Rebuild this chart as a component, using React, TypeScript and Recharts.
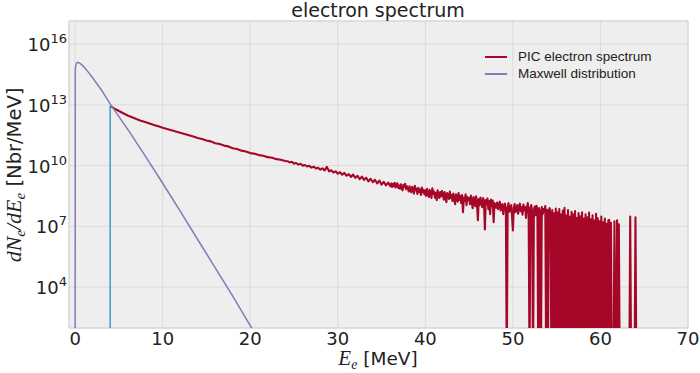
import React from 'react';
import {
    LineChart,
    Line,
    XAxis,
    YAxis,
    CartesianGrid,
    Legend,
    ReferenceArea,
} from 'recharts';

// x axis (MeV) and y axis (log10 of dN/dE) ticks
const energyTicks = [0, 10, 20, 30, 40, 50, 60, 70];
const decadeTicks = [4, 7, 10, 13, 16];
const legendOrder = ['PIC electron spectrum', 'Maxwell distribution'];

// Maxwell fit: [E (MeV), log10 dN/dE]; null = zero (off the log axis)
const maxwellCurve: [number, number | null][] = [
    [0, null], [0.02, 14.71], [0.05, 14.89], [0.1, 15.0], [0.2, 15.08], [0.3, 15.1],
    [0.5, 15.07], [0.8, 14.97], [1, 14.88], [1.5, 14.62], [2, 14.34], [3, 13.74],
    [4, 13.05], [5, 12.42], [6, 11.8], [8, 10.48], [10, 9.13], [12, 7.75],
    [14, 6.35], [16, 4.95], [18, 3.55], [20, 2.1], [21, 1.4],
];

// cut-off marker at 4 MeV
const cutoffMarker: [number, number | null][] = [[4, 12.95], [4, null]];

// PIC histogram, log10 values per bin (null = empty bin)
const picLowStart = 4;
const picLowStep = 0.5;
const picLowLog = [
    12.95, 12.82, 12.7, 12.59, 12.48, 12.39, 12.3, 12.22, 12.15, 12.08,
    12.01, 11.94, 11.87, 11.81, 11.75, 11.69, 11.62, 11.56, 11.5, 11.44,
    11.37, 11.32, 11.24, 11.2, 11.11, 11.07, 10.99, 10.95, 10.86, 10.82,
    10.74, 10.7, 10.62, 10.59, 10.52, 10.49, 10.42, 10.39, 10.32, 10.29,
    10.23,
];

const picMidStart = 24.25;
const picMidStep = 0.25;
const picMidLog = [
    10.22, 10.16, 10.19, 10.1, 10.13, 10.05, 10.09, 10.0,
    10.03, 9.96, 9.99, 9.9, 9.95, 9.86, 9.9, 9.8,
    9.87, 9.76, 9.94, 9.72, 9.77, 9.66, 9.72, 9.6,
    9.68, 9.55, 9.64, 9.5, 9.58, 9.44, 9.56, 9.4,
    9.5, 9.33, 9.46, 9.3, 9.4, 9.22, 9.35, 9.18,
    9.3, 9.12, 9.26, 9.06, 9.2, 9.02, 9.16, 8.98,
];

const picHighStart = 36.1;
const picHighStep = 0.1;
const picHighLog = [
    9.12, 8.95, 9.1, 8.98, 9.15, 8.92, 9.05, 9.13, 8.9,
    9.02, 8.86, 9.08, 8.9, 8.78, 9.05, 8.95, 9.1, 8.84, 8.98,
    8.92, 8.72, 8.98, 8.8, 8.68, 8.95, 8.85, 8.62, 9.0, 8.78,
    8.86, 8.6, 8.9, 8.7, 8.82, 8.55, 8.92, 8.68, 8.8, 8.58,
    8.78, 8.5, 8.85, 8.62, 8.45, 8.8, 8.68, 8.4, 8.88, 8.6,
    8.72, 8.42, 8.66, 8.3, 8.78, 8.55, 8.4, 8.7, 8.48, 8.75,
    8.6, 8.32, 8.7, 8.45, 8.2, 8.65, 8.5, 8.35, 8.72, 8.4,
    8.55, 8.25, 8.62, 8.38, 8.1, 8.58, 8.45, 8.22, 8.65, 8.3,
    8.5, 8.15, 8.55, 7.7, 8.42, 8.25, 8.58, 8.05, 8.45, 8.3,
    8.4, 8.1, 8.52, 8.2, 7.9, 8.45, 8.3, 8.0, 8.48, 8.15,
    7.3, 8.35, 8.05, 8.42, 8.15, 7.95, 8.4, 8.2, 6.85, 8.3,
    8.1, 8.38, 7.85, 8.25, 7.6, 8.32, 8.0, 8.28, 7.2, 8.15,
    8.05, 7.92, 8.18, 7.85, 8.02, 8.22, 7.78, 7.96, 8.1, 7.6,
    7.98, 8.12, 7.84, null, 7.9, 8.15, 7.72, 7.95, 8.05, 7.5,
    6.8, 7.92, 8.1, 7.7, 7.88, 8.05, 7.62, 7.9, 8.12, 7.75,
    7.95, 7.58, 8.08, 7.8, 7.96, 7.42, 7.88, 8.15, 7.7, null,
    7.92, 8.05, 7.6, null, 7.85, 7.98, 7.55, 8.02, 7.8, null,
    7.9, 7.68, null, 7.95, 7.6, 7.85, 7.72, 8.0, null, 7.82,
    null, 7.75, 7.9, 7.55, null, 7.8, null, 7.65, null, 7.88,
    null, 7.7, null, 7.85, null, 7.6, null, 7.78, null, 7.92,
    null, 7.55, null, 7.8, null, 7.48, null, 7.72, null, 7.6,
    null, 7.75, null, 7.42, null, 7.66, null, 7.5, null, 7.7,
    null, 7.38, null, 7.6, null, 7.45, null, 7.68, null, 7.35,
    null, 7.55, null, 7.3, null, 7.62, null, 7.4, null, 7.25,
    null, 7.48, null, 7.2, null, 7.38, null, 7.12, null, 7.3,
    7.32, null, 7.18, null, null, null, 7.25, null, null, 7.3,
    null, 7.1, null, null, null, null, null, null, null, null,
    null, null, null, null, 7.48, null, null, null, null, null,
    7.45, null, null, null, null, null,
];

// empty bins are drawn at 1 particle, below the visible range
const EMPTY = 1;

const toPoint = (e: number, lg: number | null) => ({ e, n: lg === null ? EMPTY : 10 ** lg });
const binned = (start: number, step: number, logs: (number | null)[]) =>
    logs.map((lg, i) => toPoint(Math.round((start + i * step) * 100) / 100, lg));

const picData = [
    ...binned(picLowStart, picLowStep, picLowLog),
    ...binned(picMidStart, picMidStep, picMidLog),
    ...binned(picHighStart, picHighStep, picHighLog),
];
const maxwellData = maxwellCurve.map(([e, lg]) => toPoint(e, lg));
const cutoffData = cutoffMarker.map(([e, lg]) => toPoint(e, lg));

const Y_MIN = 95;
const Y_MAX = 1.4e17;

const XTick = (props: any) => {
    const { x, y, payload } = props;
    return (
        <text x={x} y={y} dy="0.71em" textAnchor="middle" fontSize={18} fill="#222" fontFamily="DejaVu Sans">
            {payload.value}
        </text>
    );
};

const YTick = (props: any) => {
    const { x, y, payload } = props;
    const exp = Math.round(Math.log10(payload.value));
    return (
        <text x={x} y={y + 7} textAnchor="end" fontSize={18} fill="#222" fontFamily="DejaVu Sans">
            <tspan>10</tspan>
            <tspan dy={-8} fontSize={13}>{exp}</tspan>
        </text>
    );
};

const LegendBox = (props: any) => {
    const items = (props.payload || [])
        .filter((p: any) => p.type !== 'none')
        .sort((a: any, b: any) => legendOrder.indexOf(a.value) - legendOrder.indexOf(b.value));
    return (
        <div style={{ fontFamily: '"Liberation Sans", Arial, sans-serif', fontSize: 13.5, color: '#222' }}>
            {items.map((p: any) => (
                <div key={p.value} style={{ display: 'flex', alignItems: 'center', height: 17 }}>
                    <span style={{ display: 'inline-block', width: 22, height: 2, background: p.color, marginRight: 11 }} />
                    <span>{p.value}</span>
                </div>
            ))}
        </div>
    );
};

export default function App() {
    return (
        <div style={{ position: 'absolute', left: 0, top: 0, width: 700, height: 373, background: '#fff' }}>
            <LineChart width={700} height={373} margin={{ top: 21, right: 12, bottom: 0, left: 0 }}>
                <CartesianGrid fill="#eeeeee" stroke="#dadada" strokeWidth={1} />
                <XAxis
                    dataKey="e"
                    type="number"
                    domain={[-0.7, 70]}
                    allowDataOverflow
                    ticks={energyTicks}
                    tick={<XTick />}
                    axisLine={false}
                    tickLine={false}
                    tickSize={0}
                    tickMargin={4}
                    height={45}
                />
                <YAxis
                    dataKey="n"
                    scale="log"
                    type="number"
                    domain={[Y_MIN, Y_MAX]}
                    allowDataOverflow
                    ticks={decadeTicks.map((d) => 10 ** d)}
                    tick={<YTick />}
                    axisLine={false}
                    tickLine={false}
                    tickSize={0}
                    tickMargin={2}
                    width={69}
                />
                <ReferenceArea x1={-0.7} x2={70} y1={Y_MIN} y2={Y_MAX} fill="none" stroke="#d4d4d4" ifOverflow="visible" />
                <Legend
                    layout="vertical"
                    align="center"
                    verticalAlign="middle"
                    content={<LegendBox />}
                    wrapperStyle={{ top: 48, left: 485, width: 200 }}
                />
                <Line
                    data={picData}
                    dataKey="n"
                    name="PIC electron spectrum"
                    stroke="#A60628"
                    strokeWidth={2.1}
                    strokeLinejoin="round"
                    dot={false}
                    isAnimationActive={false}
                />
                <Line
                    data={maxwellData}
                    dataKey="n"
                    name="Maxwell distribution"
                    stroke="#8679B8"
                    strokeWidth={1.5}
                    dot={false}
                    isAnimationActive={false}
                />
                <Line
                    data={cutoffData}
                    dataKey="n"
                    name="cutoff"
                    legendType="none"
                    stroke="#3B9BC8"
                    strokeWidth={1.5}
                    dot={false}
                    isAnimationActive={false}
                />
            </LineChart>
            <svg width={700} height={373} style={{ position: 'absolute', left: 0, top: 0, pointerEvents: 'none' }}>
                <text x={378} y={17} textAnchor="middle" fontSize={19} fill="#222" fontFamily="DejaVu Sans">
                    electron spectrum
                </text>
                <text transform="rotate(-90)" x={-175} y={21} textAnchor="middle" fontSize={19.5} fill="#222" fontFamily="DejaVu Sans">
                    <tspan fontFamily="Liberation Serif" fontStyle="italic" fontSize={22}>dN</tspan>
                    <tspan fontFamily="Liberation Serif" fontStyle="italic" fontSize={15} dy={4}>e</tspan>
                    <tspan fontFamily="Liberation Serif" fontStyle="italic" fontSize={22} dy={-4}>/dE</tspan>
                    <tspan fontFamily="Liberation Serif" fontStyle="italic" fontSize={15} dy={4}>e</tspan>
                    <tspan dy={-4}> [Nbr/MeV]</tspan>
                </text>
                <text x={378} y={365} textAnchor="middle" fontSize={18.5} fill="#222" fontFamily="DejaVu Sans">
                    <tspan fontFamily="Liberation Serif" fontStyle="italic" fontSize={21}>E</tspan>
                    <tspan fontFamily="Liberation Serif" fontStyle="italic" fontSize={14} dy={4}>e</tspan>
                    <tspan dy={-4}> [MeV]</tspan>
                </text>
            </svg>
        </div>
    );
}
